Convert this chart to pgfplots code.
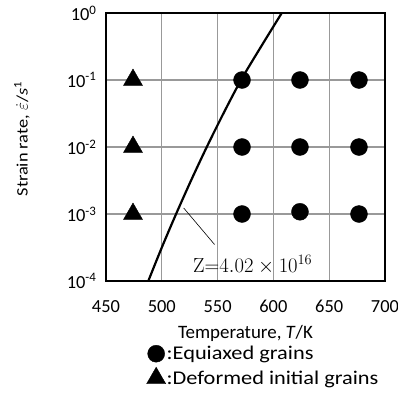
\documentclass[border=0pt]{standalone}
\usepackage{pgfplots}
\pgfplotsset{compat=1.18}
\usepackage{fontspec}
\newfontfamily\carl{Carlito}
\newfontfamily\carlw[FakeStretch=1.15]{Carlito}
\begin{document}
\begin{tikzpicture}
\path[use as bounding box] (-106bp,-113bp) rectangle (292bp,281bp);
\begin{axis}[
  scale only axis, width=279bp, height=268bp,
  xmin=450, xmax=700, ymode=log, ymin=1e-4, ymax=1,
  xtick={450,500,550,600,650,700},
  ytick={1e-4,1e-3,1e-2,1e-1,1},
  yticklabels={10\textsuperscript{-4},10\textsuperscript{-3},10\textsuperscript{-2},10\textsuperscript{-1},10\textsuperscript{0}},
  xticklabels={450,500,550,600,650,700},
  tick style={draw=none},
  grid=major, major grid style={gray!80, line width=1.3bp},
  axis line style={black, line width=1.6bp},
  tick label style={font=\carl\fontsize{18.5}{20}\selectfont},
  xticklabel style={yshift=-16bp},
  yticklabel style={xshift=-6bp},
  xlabel={Temperature, \textit{T}/K},
  xlabel style={font=\carl\fontsize{19}{21}\selectfont, at={(rel axis cs:0.5,0)}, anchor=center, yshift=-52bp},
  ylabel={Strain rate, $\dot{\varepsilon}$/\textit{s}\textsuperscript{1}},
  ylabel style={font=\carlw\fontsize{16}{18}\selectfont, at={(rel axis cs:0,0.53)}, anchor=center, yshift=84bp},
  legend style={at={(rel axis cs:0.145,0)}, anchor=north west, yshift=-64bp, draw=none, fill=none,
    font=\carlw\fontsize{19.5}{21}\selectfont, row sep=5bp, inner sep=0pt,
    nodes={inner xsep=1bp, inner ysep=1bp},
    cells={anchor=west}},
  legend cell align=left,
  legend image code/.code={\draw[#1] plot coordinates {(0cm,0cm)};},
  clip=false,
]
\addplot[only marks, mark=*, mark size=8.5bp, black] coordinates {
(571.9,0.1) (623.8,0.1) (676.7,0.1)
(571.9,0.01) (623.8,0.01) (676.7,0.01)
(571.9,0.001) (623.8,0.00108) (676.7,0.001)
};
\addlegendentry{:Equiaxed grains}
\addplot[only marks, mark=triangle*, mark size=11bp, black] coordinates {
(474.2,0.1) (474.2,0.01) (474.2,0.001)
};
\addlegendentry{:Deformed initial grains}
\addplot[black, line width=2.2bp, smooth] coordinates {
(487.9,1e-4) (500.0,3.162e-4) (512.8,1e-3) (526.2,3.162e-3) (540.3,1e-2)
(555.2,3.162e-2) (571.0,1e-1) (589.0,3.162e-1) (607.5,1)
};
\addplot[black, line width=0.6bp] coordinates {(519.6,1.23e-3) (547.3,3.5e-4)};
\node[anchor=base west, inner sep=0pt, font=\fontsize{20.5}{23}\selectfont] at (axis cs:528,1.36e-4) {Z=$4.02\times10^{16}$};
\end{axis}
\end{tikzpicture}
\end{document}
